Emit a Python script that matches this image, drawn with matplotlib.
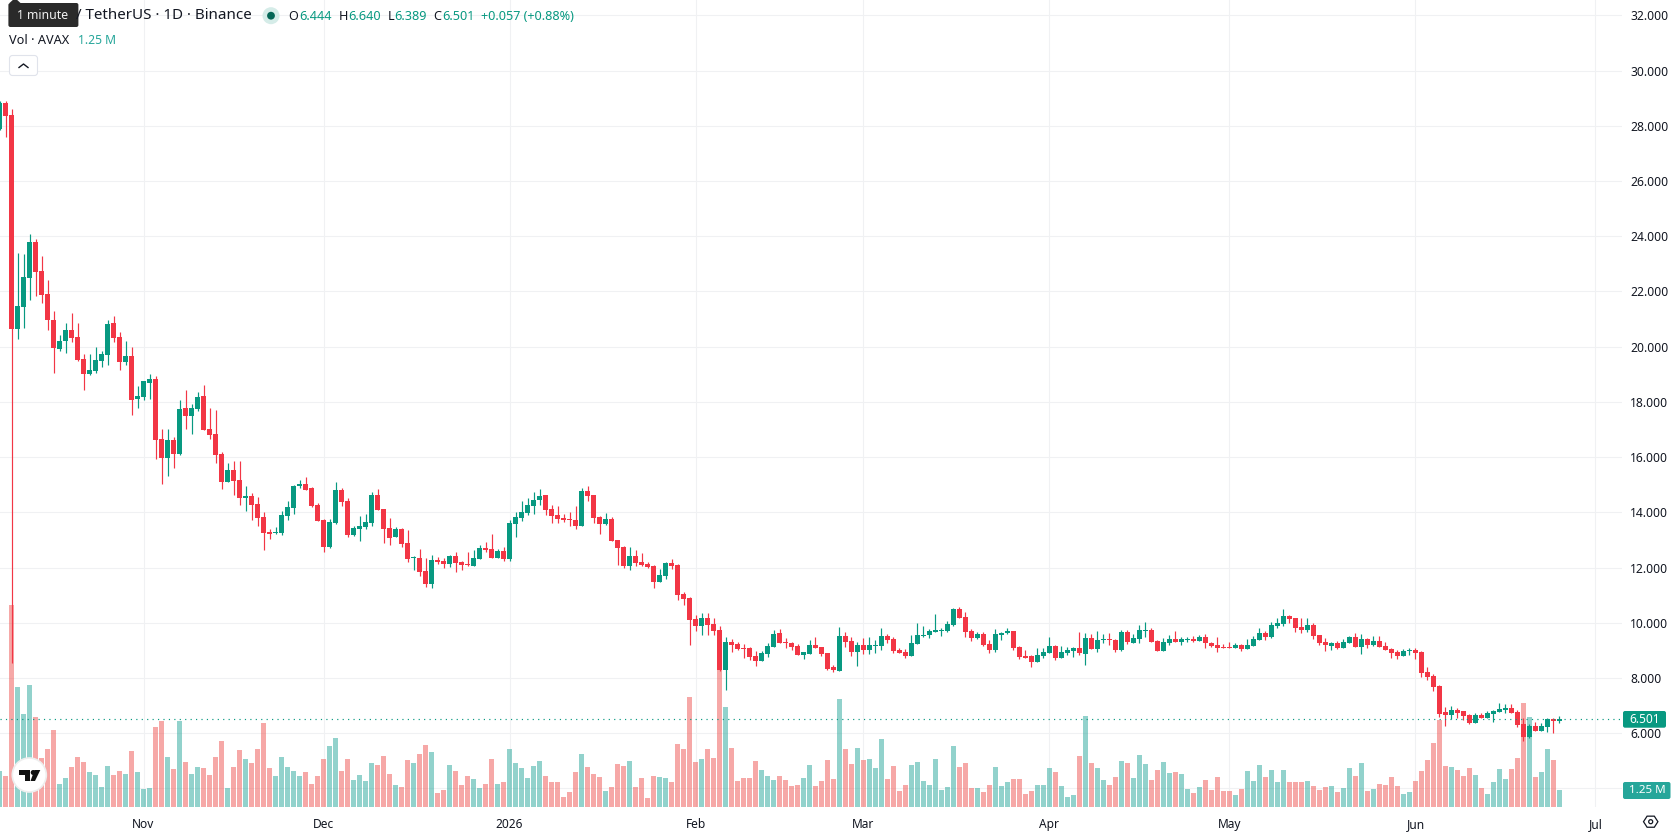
# Daily AVAX/USDT candlesticks with volume underneath, laid out like a trading terminal

import numpy as np
import pandas as pd
import matplotlib
matplotlib.use("Agg")
import matplotlib.pyplot as plt
import matplotlib.dates as mdates
from matplotlib.patches import Circle, FancyBboxPatch, Polygon

FONT = "Noto Sans"
UP, DOWN = "#089981", "#F23645"
VOL_UP, VOL_DOWN = "#26a69a", "#ef5350"
GRID = "#f0f1f3"
TEXT = "#131722"

# Daily bars starting on 2025-10-08
opens = [
    27.89, 28.83, 28.39, 20.64, 21.44, 22.49, 23.79, 22.74, 21.91, 20.96,
    19.91, 20.20, 20.60, 20.35, 19.55, 19.01, 19.12, 19.48, 19.70, 20.86,
    20.35, 19.44, 19.66, 18.10, 18.17, 18.68, 18.83, 16.66, 15.97, 16.62,
    16.11, 17.78, 17.49, 17.74, 18.21, 17.02, 16.84, 16.11, 15.10, 15.53,
    15.17, 14.52, 14.59, 14.30, 13.83, 13.29, 13.25, 13.25, 13.87, 14.16,
    14.95, 15.03, 14.88, 14.26, 13.72, 12.74, 13.61, 14.81, 14.41, 13.18,
    13.39, 13.47, 13.61, 14.63, 14.12, 13.43, 13.10, 13.39, 12.89, 12.34,
    12.34, 11.87, 11.40, 12.27, 12.24, 12.13, 12.42, 12.20, 12.13, 12.05,
    12.31, 12.71, 12.67, 12.34, 12.60, 12.31, 13.58, 13.79, 13.97, 14.23,
    14.45, 14.63, 14.12, 13.90, 13.79, 13.76, 13.72, 13.50, 14.77, 14.63,
    13.83, 13.58, 13.76, 12.99, 12.74, 12.05, 12.42, 12.20, 12.13, 12.05,
    11.47, 11.69, 12.16, 12.09, 11.04, 10.89, 10.13, 9.88, 10.17, 9.95,
    9.73, 8.28, 9.30, 9.23, 9.08, 9.08, 8.79, 8.61, 8.86, 9.12,
    9.63, 9.30, 9.26, 9.15, 8.83, 8.86, 9.19, 9.12, 8.90, 8.39,
    8.25, 9.52, 9.34, 8.94, 9.19, 9.01, 9.15, 9.15, 9.52, 9.41,
    9.01, 8.94, 8.79, 9.23, 9.52, 9.55, 9.66, 9.70, 9.70, 9.92,
    10.49, 10.20, 9.70, 9.44, 9.59, 9.23, 9.01, 9.55, 9.63, 9.70,
    9.12, 8.79, 8.79, 8.57, 8.79, 8.90, 9.16, 8.72, 8.90, 8.97,
    9.08, 8.87, 9.45, 9.05, 9.37, 9.41, 9.37, 9.01, 9.66, 9.26,
    9.41, 9.70, 9.73, 9.34, 8.97, 9.26, 9.41, 9.30, 9.37, 9.41,
    9.34, 9.48, 9.26, 9.19, 9.12, 9.12, 9.08, 9.19, 9.05, 9.16,
    9.37, 9.63, 9.48, 9.88, 9.95, 10.24, 10.17, 9.84, 9.73, 9.92,
    9.55, 9.30, 9.16, 9.26, 9.08, 9.26, 9.48, 9.12, 9.41, 9.19,
    9.34, 9.16, 9.05, 8.94, 8.79, 8.97, 9.01, 8.94, 8.21, 8.07,
    7.71, 6.76, 6.65, 6.83, 6.80, 6.66, 6.37, 6.66, 6.55, 6.69,
    6.77, 6.84, 6.91, 6.77, 6.33, 5.86, 6.26, 6.08, 6.22, 6.51,
    6.444,
]
highs = [
    28.90, 28.90, 28.61, 23.39, 23.36, 24.08, 23.90, 23.28, 22.41, 21.29,
    20.42, 20.86, 21.22, 20.86, 19.73, 19.73, 19.99, 19.84, 20.96, 21.11,
    20.53, 20.20, 19.99, 18.57, 18.75, 19.01, 18.94, 17.02, 17.02, 16.73,
    18.07, 18.43, 17.92, 18.36, 18.61, 17.78, 17.71, 16.18, 15.79, 15.86,
    15.86, 14.95, 14.70, 14.55, 14.01, 13.39, 13.47, 14.05, 14.41, 14.99,
    15.17, 15.28, 14.92, 14.34, 13.76, 13.76, 15.10, 14.88, 14.52, 13.50,
    13.87, 13.94, 14.74, 14.84, 14.12, 13.79, 13.47, 13.43, 13.36, 12.42,
    12.67, 12.34, 12.45, 12.38, 12.34, 12.45, 12.56, 12.24, 12.56, 12.63,
    12.82, 12.92, 13.21, 12.67, 12.74, 13.72, 14.01, 14.41, 14.52, 14.74,
    14.84, 14.63, 14.26, 14.23, 13.94, 14.01, 14.23, 14.88, 14.95, 14.63,
    13.87, 13.97, 13.83, 12.99, 12.78, 12.74, 12.63, 12.52, 12.20, 12.09,
    11.95, 12.20, 12.31, 12.13, 11.11, 10.93, 10.28, 10.35, 10.35, 10.17,
    9.88, 9.48, 9.41, 9.30, 9.23, 9.12, 8.97, 8.97, 9.26, 9.73,
    9.77, 9.44, 9.30, 9.23, 8.94, 9.37, 9.48, 9.12, 8.90, 8.47,
    9.84, 9.66, 9.48, 9.30, 9.44, 9.48, 9.37, 9.81, 9.59, 9.48,
    9.08, 9.05, 9.55, 9.99, 9.88, 9.77, 10.31, 9.81, 10.06, 10.53,
    10.57, 10.39, 9.77, 9.66, 9.66, 9.37, 9.77, 9.66, 9.81, 9.70,
    9.15, 9.01, 8.83, 9.08, 9.08, 9.48, 9.19, 9.15, 9.12, 9.12,
    9.66, 9.63, 9.59, 9.70, 9.59, 9.63, 9.41, 9.73, 9.73, 9.59,
    9.92, 10.02, 9.81, 9.37, 9.45, 9.55, 9.70, 9.48, 9.48, 9.52,
    9.55, 9.59, 9.30, 9.48, 9.23, 9.30, 9.26, 9.23, 9.41, 9.52,
    9.81, 9.70, 10.02, 10.17, 10.50, 10.28, 10.17, 10.17, 10.17, 9.99,
    9.55, 9.45, 9.30, 9.34, 9.41, 9.52, 9.63, 9.59, 9.45, 9.52,
    9.52, 9.30, 9.08, 9.01, 9.05, 9.08, 9.08, 8.97, 8.39, 8.14,
    7.74, 6.95, 6.98, 6.91, 6.80, 6.69, 6.73, 6.73, 6.80, 6.84,
    7.09, 7.05, 7.05, 6.84, 6.55, 6.33, 6.40, 6.36, 6.55, 6.55,
    6.640,
]
lows = [
    27.85, 27.60, 8.55, 20.28, 20.67, 21.69, 21.83, 21.58, 20.60, 19.04,
    19.84, 19.77, 20.17, 19.48, 18.43, 18.97, 19.04, 19.26, 19.33, 20.17,
    19.15, 19.33, 17.52, 17.78, 18.07, 18.10, 15.93, 15.02, 15.31, 15.60,
    16.08, 17.02, 16.84, 17.67, 16.98, 16.66, 15.79, 14.84, 15.10, 14.63,
    14.26, 14.05, 13.72, 13.50, 12.63, 13.03, 13.21, 13.18, 13.72, 13.94,
    14.88, 14.81, 14.19, 13.68, 12.56, 12.71, 13.58, 14.23, 13.10, 13.14,
    12.96, 13.39, 13.50, 14.08, 12.89, 12.82, 13.10, 12.74, 12.20, 11.91,
    11.69, 11.29, 11.26, 12.13, 11.98, 12.02, 11.84, 11.91, 12.05, 12.05,
    12.31, 12.56, 12.34, 12.34, 12.24, 12.24, 13.10, 13.68, 13.90, 13.94,
    14.26, 13.90, 13.61, 13.61, 13.65, 13.50, 13.39, 13.50, 14.41, 13.61,
    13.21, 13.54, 12.96, 12.09, 11.98, 11.91, 12.05, 12.05, 11.98, 11.26,
    11.47, 11.58, 11.95, 10.82, 10.64, 9.19, 9.70, 9.55, 9.55, 9.55,
    8.25, 7.56, 8.94, 9.01, 8.72, 8.65, 8.43, 8.61, 8.76, 9.12,
    9.26, 9.08, 9.01, 8.83, 8.68, 8.86, 9.08, 8.79, 8.28, 8.21,
    8.25, 9.12, 8.79, 8.43, 8.86, 8.86, 8.90, 9.01, 9.26, 8.90,
    8.90, 8.72, 8.79, 9.23, 9.48, 9.44, 9.66, 9.52, 9.66, 9.88,
    10.17, 9.48, 9.34, 9.41, 9.15, 8.90, 8.94, 9.37, 9.59, 9.01,
    8.68, 8.72, 8.39, 8.57, 8.72, 8.90, 8.65, 8.72, 8.83, 8.76,
    8.83, 8.47, 9.05, 8.94, 9.26, 9.19, 8.94, 8.97, 9.23, 9.26,
    9.26, 9.48, 9.30, 8.97, 8.97, 9.19, 9.30, 9.19, 9.30, 9.30,
    9.34, 9.08, 9.12, 8.94, 9.08, 9.08, 9.08, 8.97, 9.05, 9.16,
    9.37, 9.37, 9.45, 9.81, 9.88, 9.99, 9.66, 9.63, 9.66, 9.41,
    9.19, 8.97, 9.01, 9.05, 9.08, 9.26, 9.12, 8.87, 9.08, 9.16,
    9.12, 9.01, 8.72, 8.68, 8.79, 8.83, 8.68, 8.03, 7.92, 7.52,
    6.58, 6.26, 6.51, 6.55, 6.47, 6.33, 6.37, 6.55, 6.55, 6.40,
    6.77, 6.73, 6.73, 6.22, 5.71, 5.82, 6.08, 6.08, 6.04, 6.00,
    6.389,
]
closes = [
    28.83, 28.36, 20.64, 21.47, 22.52, 23.79, 22.70, 21.87, 20.96, 19.95,
    20.20, 20.60, 20.31, 19.52, 19.01, 19.15, 19.52, 19.73, 20.82, 20.31,
    19.44, 19.66, 18.07, 18.21, 18.75, 18.83, 16.62, 15.97, 16.62, 16.11,
    17.74, 17.49, 17.78, 18.18, 16.98, 16.80, 16.08, 15.10, 15.53, 15.13,
    14.52, 14.59, 14.26, 13.79, 13.25, 13.21, 13.29, 13.90, 14.19, 14.95,
    15.02, 14.81, 14.23, 13.68, 12.74, 13.65, 14.81, 14.37, 13.18, 13.43,
    13.50, 13.65, 14.63, 14.08, 13.39, 13.07, 13.39, 12.85, 12.31, 12.38,
    11.84, 11.40, 12.27, 12.20, 12.13, 12.42, 12.16, 12.09, 12.09, 12.34,
    12.71, 12.63, 12.34, 12.60, 12.31, 13.61, 13.83, 14.01, 14.26, 14.45,
    14.59, 14.08, 13.87, 13.76, 13.72, 13.72, 13.50, 14.77, 14.59, 13.79,
    13.58, 13.76, 12.96, 12.71, 12.05, 12.42, 12.16, 12.09, 12.02, 11.47,
    11.73, 12.16, 12.05, 11.00, 10.86, 10.10, 9.88, 10.17, 9.92, 9.70,
    8.28, 9.30, 9.19, 9.05, 9.05, 8.76, 8.61, 8.90, 9.15, 9.59,
    9.26, 9.26, 9.12, 8.83, 8.94, 9.19, 9.08, 8.86, 8.32, 8.28,
    9.52, 9.30, 8.94, 9.19, 9.01, 9.19, 9.19, 9.52, 9.37, 8.97,
    8.90, 8.79, 9.26, 9.55, 9.55, 9.70, 9.73, 9.73, 9.95, 10.49,
    10.17, 9.66, 9.44, 9.59, 9.19, 9.01, 9.59, 9.63, 9.70, 9.08,
    8.76, 8.72, 8.57, 8.83, 8.94, 9.15, 8.72, 8.94, 9.01, 9.08,
    8.90, 9.45, 9.05, 9.37, 9.41, 9.37, 9.01, 9.66, 9.30, 9.45,
    9.73, 9.73, 9.30, 8.97, 9.30, 9.41, 9.30, 9.41, 9.41, 9.34,
    9.48, 9.26, 9.16, 9.08, 9.08, 9.08, 9.19, 9.05, 9.19, 9.41,
    9.63, 9.48, 9.92, 9.99, 10.24, 10.13, 9.81, 9.73, 9.92, 9.52,
    9.26, 9.19, 9.26, 9.08, 9.30, 9.48, 9.12, 9.41, 9.19, 9.34,
    9.12, 9.01, 8.90, 8.79, 8.97, 9.01, 8.90, 8.18, 8.03, 7.67,
    6.69, 6.66, 6.83, 6.73, 6.62, 6.37, 6.66, 6.55, 6.73, 6.80,
    6.87, 6.91, 6.73, 6.29, 5.86, 6.26, 6.08, 6.26, 6.51, 6.44,
    6.501,
]

# Traded volume, millions of AVAX
volumes = [
    2.62, 2.25, 14.83, 8.80, 6.81, 8.95, 6.59, 3.58, 4.24, 5.64,
    1.67, 2.11, 2.92, 3.65, 3.28, 2.55, 2.33, 1.45, 2.99, 2.33,
    2.62, 2.40, 4.09, 2.55, 1.30, 1.37, 5.86, 6.30, 3.65, 2.77,
    6.30, 3.28, 2.40, 2.92, 2.84, 2.33, 3.65, 4.83, 1.37, 2.92,
    4.17, 3.50, 3.21, 4.24, 6.15, 2.84, 2.25, 3.65, 2.92, 2.62,
    2.25, 2.55, 1.67, 2.25, 3.50, 4.46, 5.05, 2.62, 3.50, 1.96,
    2.33, 1.89, 3.21, 3.06, 3.73, 2.40, 1.59, 1.45, 3.43, 3.21,
    3.90, 4.56, 4.04, 1.03, 1.25, 3.09, 2.65, 1.62, 2.28, 2.06,
    1.40, 1.69, 3.53, 1.69, 1.84, 4.26, 3.24, 2.87, 2.13, 3.01,
    3.38, 2.28, 1.84, 1.84, 0.74, 1.10, 2.57, 3.90, 2.94, 2.43,
    2.21, 1.18, 1.47, 3.16, 3.01, 3.38, 1.47, 2.13, 0.66, 2.28,
    2.21, 2.13, 1.84, 4.63, 4.26, 8.09, 3.31, 3.53, 4.26, 3.60,
    12.00, 7.35, 4.34, 1.91, 2.13, 2.13, 3.38, 2.72, 2.28, 1.99,
    2.28, 1.99, 1.54, 1.62, 2.13, 3.09, 1.54, 1.91, 3.46, 2.06,
    7.94, 4.26, 3.16, 4.34, 3.46, 3.53, 2.87, 5.00, 2.06, 3.01,
    1.18, 1.62, 3.09, 3.31, 1.91, 1.62, 3.53, 1.25, 1.47, 4.49,
    2.94, 3.24, 1.40, 1.40, 1.10, 1.62, 2.94, 1.54, 1.84, 2.06,
    2.06, 0.96, 1.18, 1.62, 1.62, 2.87, 2.57, 1.54, 0.74, 0.88,
    3.75, 6.69, 3.24, 2.87, 1.99, 1.62, 2.21, 3.38, 3.24, 2.13,
    3.82, 3.16, 1.99, 2.72, 3.31, 2.50, 2.57, 2.43, 1.32, 1.03,
    1.47, 1.99, 1.25, 2.21, 1.18, 1.18, 0.88, 1.32, 2.65, 1.91,
    3.09, 2.21, 2.72, 1.84, 2.72, 1.84, 1.84, 1.84, 1.91, 1.54,
    1.25, 1.47, 1.54, 1.10, 1.40, 2.87, 2.28, 3.24, 1.18, 1.32,
    1.69, 1.62, 2.21, 1.54, 0.96, 1.10, 1.91, 2.65, 3.46, 4.71,
    6.40, 3.01, 2.94, 2.72, 2.28, 2.87, 2.35, 1.40, 0.96, 1.84,
    2.79, 2.06, 2.79, 3.60, 7.65, 6.62, 2.21, 2.57, 4.26, 3.46,
    1.25,
]

price_ticks = [4, 6, 8, 10, 12, 14, 16, 18, 20, 22, 24, 26, 28, 30, 32]
month_dates = ["2025-11-01", "2025-12-01", "2026-01-01", "2026-02-01", "2026-03-01",
               "2026-04-01", "2026-05-01", "2026-06-01", "2026-07-01"]
month_labels = ["Nov", "Dec", "2026", "Feb", "Mar", "Apr", "May", "Jun", "Jul"]

last_close = closes[-1]
last_volume = volumes[-1]

dates = pd.date_range("2025-10-08", periods=len(closes))
days = mdates.date2num(dates)
opens, highs, lows, closes = map(np.array, (opens, highs, lows, closes))
rising = closes >= opens

W, H = 1678, 835
PANE_W, PANE_H = 1622, 807
PRICE_RANGE = (3.330, 32.553)
VOLUME_RANGE = (0, 59.34)

fig = plt.figure(figsize=(W / 100, H / 100), dpi=100, facecolor="white")
pane = [0, (H - PANE_H) / H, PANE_W / W, PANE_H / H]

# Bottom layer: both grids, the price scale and the time scale
ax = fig.add_axes(pane, zorder=0)
ax.set_xlim(days[0] + 0.0833, days[0] + 270.4167)
ax.set_ylim(*PRICE_RANGE)
ax.set_xticks(mdates.date2num(pd.to_datetime(month_dates)))
ax.set_xticklabels(month_labels, fontfamily=FONT, fontsize=8.6, color=TEXT)
ax.get_xticklabels()[2].set_fontweight("bold")
ax.yaxis.tick_right()
ax.set_yticks(price_ticks)
# 4.000 sits behind the volume tag, so only its grid line shows
ax.set_yticklabels(["" if t == 4 else f"{t:.3f}" for t in price_ticks],
                   fontfamily=FONT, fontsize=8.7, color=TEXT)
ax.get_yticklabels()[price_ticks.index(30)].set_fontweight("bold")
ax.tick_params(axis="x", length=0, pad=8)
ax.tick_params(axis="y", length=0, pad=5.8)
ax.grid(color=GRID, linewidth=0.8)
ax.set_axisbelow(True)
for s in ax.spines.values():
    s.set_visible(False)

# Volume bars above the grid
ax_vol = fig.add_axes(pane, zorder=1, sharex=ax)
ax_vol.patch.set_alpha(0)
ax_vol.axis("off")
ax_vol.set_ylim(*VOLUME_RANGE)
ax_vol.bar(days, volumes, width=5 / 6, alpha=0.5, linewidth=0,
           color=np.where(rising, VOL_UP, VOL_DOWN))

# Candles on top, wicks first
ax_price = fig.add_axes(pane, zorder=2, sharex=ax)
ax_price.patch.set_alpha(0)
ax_price.axis("off")
ax_price.set_ylim(*PRICE_RANGE)
colors = np.where(rising, UP, DOWN)
ax_price.vlines(days, lows, highs, colors=colors, linewidth=0.85)
ax_price.bar(days, np.maximum(np.abs(closes - opens), 0.04), bottom=np.minimum(opens, closes),
             width=5 / 6, color=colors, linewidth=0)
ax_price.axhline(last_close, color=UP, linewidth=0.85, linestyle=(0, (1, 3.6)))

# Everything else is placed in plain pixel coordinates
ui = fig.add_axes([0, 0, 1, 1], zorder=3)
ui.set_xlim(0, W)
ui.set_ylim(H, 0)
ui.axis("off")


def label(x, y, s, size=9.1, color=TEXT, ha="left", weight="normal"):
    ui.text(x, y, s, fontsize=size, color=color, ha=ha, va="center",
            fontfamily=FONT, fontweight=weight)


# Legend row
label(76, 15.5, "/ TetherUS · 1D · Binance", size=10.9)
ui.add_patch(Circle((271, 15.7), 8.5, color="#d5ece8", linewidth=0))
ui.add_patch(Circle((271, 15.7), 3.9, color="#056656", linewidth=0))
for x, s, c in [(288.6, "O", TEXT), (299.6, "6.444", UP), (338.7, "H", TEXT), (348.3, "6.640", UP),
                (387.3, "L", TEXT), (394.2, "6.389", UP), (433.2, "C", TEXT), (442.4, "6.501", UP),
                (480.7, "+0.057 (+0.88%)", UP)]:
    label(x, 16, s, color=c)

label(9.2, 40.5, "Vol · AVAX", size=9.2)
label(78.5, 40.5, "1.25 M", size=8.7, color=VOL_UP)

# Collapse button
ui.add_patch(FancyBboxPatch((9.5, 55.5), 28, 20, boxstyle="round,pad=0,rounding_size=3",
                            facecolor="white", edgecolor="#e0e3eb", linewidth=0.8))
ui.plot([19, 23.5, 28], [67.5, 64, 67.5], color=TEXT, linewidth=1.0)

# Tooltip over the symbol name
ui.add_patch(FancyBboxPatch((8.4, 3), 70, 24, boxstyle="round,pad=0,rounding_size=2",
                            facecolor="#2a2a2a", edgecolor="none"))
ui.add_patch(Polygon([[9.5, 3], [15, -2], [20.5, 3]], facecolor="#2a2a2a", edgecolor="none"))
label(43, 15.5, "1 minute", size=8.8, color="#f0f0f0", ha="center")

# Price and volume tags on the scale
ui.add_patch(FancyBboxPatch((1623, 711), 43, 16.7, boxstyle="round,pad=0,rounding_size=2",
                            facecolor=UP, edgecolor="none"))
label(1644.7, 719.5, f"{last_close:.3f}", size=8.6, color="white", ha="center")
ui.add_patch(FancyBboxPatch((1623, 782), 47.5, 17, boxstyle="round,pad=0,rounding_size=2",
                            facecolor=VOL_UP, edgecolor="none"))
label(1647, 790.5, f"{last_volume:.2f} M", size=8.4, color="white", ha="center")

# Logo badge
ui.add_patch(Circle((29.3, 775), 17, facecolor="white", edgecolor="#eeeeee", linewidth=1.2))
ui.add_patch(Polygon([[19, 770], [30, 770], [30, 781], [24.5, 781], [24.5, 775], [19, 775]],
                     facecolor="#111111", edgecolor="none"))
ui.add_patch(Circle((33.2, 772.5), 2.5, color="#111111", linewidth=0))
ui.add_patch(Polygon([[35, 781], [40.3, 770], [34.5, 770], [30.5, 781]],
                     facecolor="#111111", edgecolor="none"))

# Settings icon
hex_angles = np.deg2rad(np.arange(0, 360, 60))
ui.add_patch(Polygon(np.column_stack([1650.7 + 7.2 * np.cos(hex_angles), 821.7 + 6.4 * np.sin(hex_angles)]),
                     closed=True, facecolor="none", edgecolor=TEXT, linewidth=0.9))
ui.add_patch(Circle((1650.7, 821.7), 2.0, facecolor="none", edgecolor=TEXT, linewidth=0.9))

fig.savefig("out.png", dpi=100, facecolor="white")
